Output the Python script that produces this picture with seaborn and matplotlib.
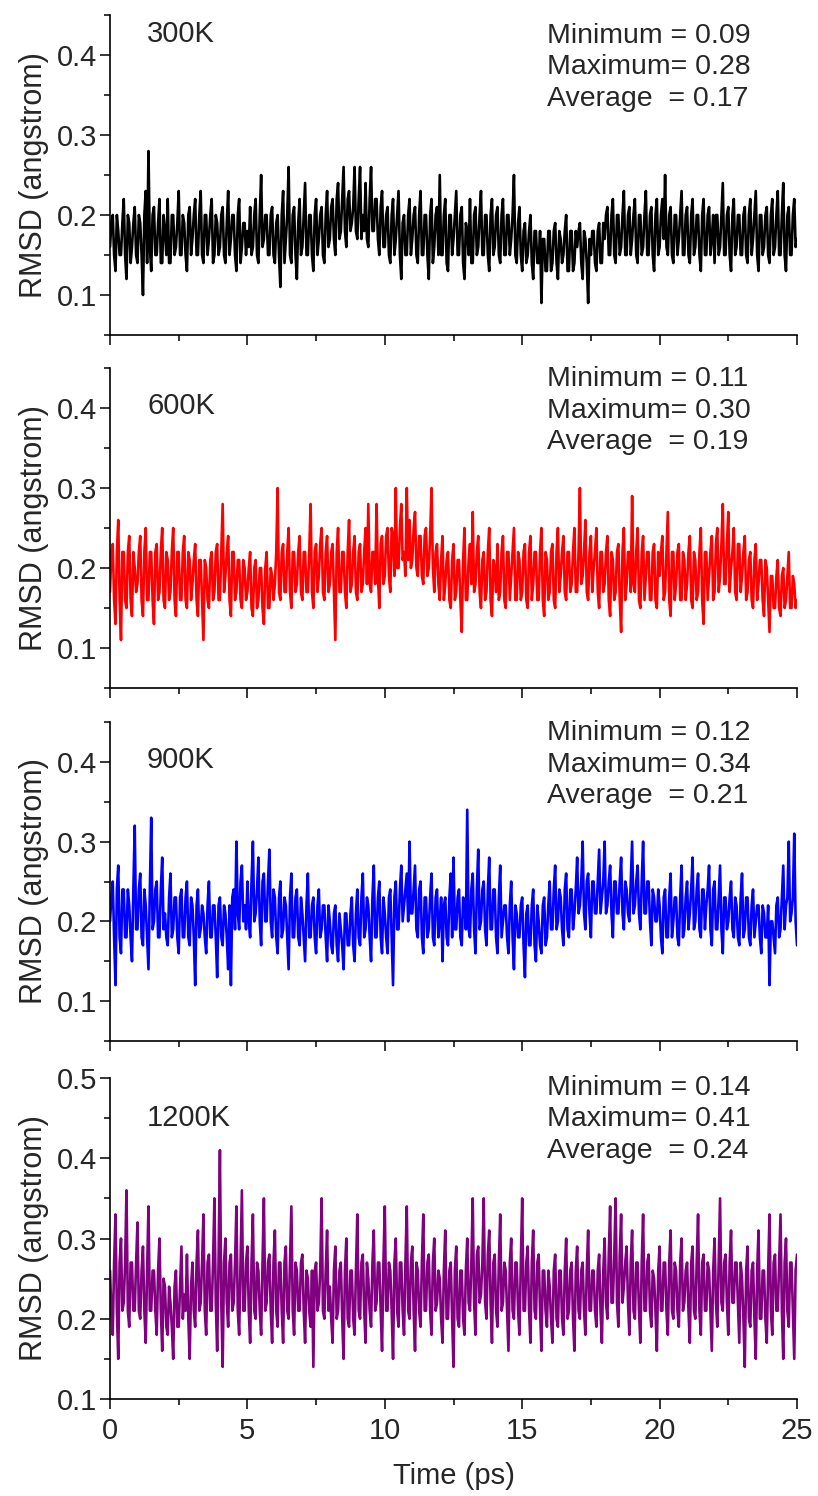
import numpy as np
import pandas as pd
import matplotlib
matplotlib.use("Agg")
import matplotlib.pyplot as plt
import seaborn as sns
from matplotlib.ticker import MultipleLocator

# RMSD traces in units of 0.01 angstrom.
# "*_a" lists: samples at 0, 0.1, 0.2 ... 25 ps
# "*_b" lists: samples in between, at 0.05, 0.15 ... 24.95 ps
rmsd_300_a = [
    16, 20, 13, 18, 15, 22, 12, 19, 16, 21,
    14, 19, 10, 23, 28, 13, 21, 15, 22, 14,
    18, 22, 14, 20, 16, 23, 15, 19, 13, 21,
    17, 22, 15, 23, 14, 20, 17, 22, 15, 19,
    16, 21, 14, 23, 17, 20, 13, 22, 16, 19,
    18, 21, 16, 22, 14, 25, 17, 20, 15, 21,
    14, 20, 11, 23, 17, 26, 14, 21, 12, 22,
    16, 24, 15, 20, 13, 22, 17, 21, 14, 23,
    17, 22, 15, 24, 18, 26, 16, 23, 19, 26,
    17, 26, 20, 24, 16, 26, 18, 22, 15, 23,
    16, 21, 14, 22, 17, 23, 12, 20, 15, 22,
    17, 21, 14, 23, 15, 20, 12, 22, 16, 21,
    25, 15, 22, 13, 20, 17, 23, 15, 21, 12,
    18, 22, 14, 21, 16, 23, 15, 20, 13, 22,
    16, 21, 14, 22, 15, 20, 17, 25, 14, 21,
    13, 19, 15, 20, 12, 18, 14, 9, 17, 13,
    18, 14, 19, 12, 17, 15, 20, 13, 18, 14,
    16, 19, 12, 17, 9, 15, 18, 13, 19, 14,
    17, 21, 15, 22, 14, 20, 16, 23, 15, 21,
    17, 22, 14, 20, 16, 23, 15, 21, 13, 22,
    16, 22, 25, 15, 21, 14, 20, 17, 23, 15,
    21, 14, 22, 16, 20, 13, 22, 15, 21, 17,
    14, 20, 16, 24, 15, 21, 13, 22, 16, 20,
    15, 21, 14, 22, 17, 23, 13, 20, 16, 21,
    14, 22, 16, 23, 15, 24, 13, 21, 15, 22,
    17,
]
rmsd_300_b = [
    19, 15, 20, 15, 19, 15, 20, 14, 19, 15,
    20, 15, 20, 14, 16, 20, 15, 19, 14, 20,
    15, 14, 20, 15, 19, 15, 20, 15, 20, 15,
    20, 15, 20, 15, 20, 15, 20, 14, 20, 15,
    20, 15, 19, 15, 20, 15, 20, 14, 19, 15,
    16, 15, 20, 15, 20, 16, 20, 15, 20, 15,
    19, 15, 20, 14, 20, 15, 20, 15, 19, 15,
    20, 15, 20, 15, 20, 15, 20, 15, 20, 16,
    21, 17, 22, 17, 22, 18, 22, 18, 21, 18,
    22, 17, 18, 17, 22, 18, 22, 17, 21, 16,
    20, 15, 20, 15, 20, 15, 19, 15, 20, 15,
    20, 15, 20, 15, 20, 15, 20, 14, 20, 15,
    15, 20, 14, 20, 15, 20, 15, 20, 14, 19,
    15, 14, 20, 15, 20, 15, 20, 15, 20, 15,
    20, 15, 20, 15, 20, 15, 20, 15, 19, 15,
    18, 14, 18, 14, 18, 14, 18, 17, 13, 18,
    13, 18, 14, 18, 14, 18, 13, 18, 13, 18,
    18, 14, 18, 14, 17, 18, 14, 18, 14, 19,
    20, 15, 20, 15, 20, 15, 20, 15, 20, 15,
    20, 15, 20, 15, 20, 15, 20, 15, 20, 15,
    20, 17, 16, 20, 15, 20, 15, 20, 15, 20,
    15, 20, 15, 20, 15, 20, 15, 20, 15, 20,
    20, 15, 20, 15, 20, 15, 20, 15, 20, 15,
    20, 15, 20, 15, 20, 15, 20, 15, 20, 15,
    20, 15, 20, 15, 20, 15, 20, 15, 20, 16,
]
rmsd_600_a = [
    17, 23, 13, 26, 11, 22, 15, 24, 14, 20,
    18, 24, 14, 25, 16, 22, 13, 23, 17, 25,
    15, 21, 17, 25, 14, 22, 16, 24, 15, 21,
    18, 23, 14, 21, 11, 20, 15, 22, 17, 23,
    16, 28, 19, 24, 14, 22, 17, 21, 15, 20,
    17, 22, 14, 21, 16, 20, 13, 22, 15, 19,
    18, 30, 16, 23, 17, 25, 15, 22, 18, 24,
    16, 22, 17, 28, 15, 23, 19, 25, 16, 24,
    18, 23, 11, 25, 17, 22, 15, 26, 18, 24,
    16, 23, 18, 25, 28, 17, 22, 28, 15, 24,
    19, 25, 17, 24, 30, 20, 28, 22, 30, 26,
    21, 27, 19, 24, 18, 25, 20, 30, 17, 23,
    16, 24, 18, 22, 15, 23, 17, 21, 12, 25,
    16, 23, 27, 18, 24, 15, 22, 17, 25, 14,
    20, 23, 17, 24, 15, 22, 19, 25, 16, 21,
    17, 23, 15, 24, 18, 22, 16, 25, 14, 21,
    17, 23, 15, 25, 19, 24, 16, 22, 18, 25,
    17, 30, 19, 26, 16, 24, 20, 25, 15, 22,
    18, 24, 14, 21, 17, 23, 12, 25, 18, 22,
    29, 17, 25, 15, 24, 19, 22, 16, 23, 15,
    19, 24, 17, 27, 14, 22, 18, 23, 16, 21,
    18, 24, 15, 21, 17, 25, 13, 22, 19, 24,
    17, 25, 19, 28, 18, 27, 20, 25, 16, 23,
    19, 24, 17, 22, 15, 23, 18, 21, 14, 20,
    12, 19, 15, 21, 14, 20, 16, 22, 15, 18,
    16,
]
rmsd_600_b = [
    22, 16, 22, 16, 22, 16, 22, 16, 22, 17,
    22, 16, 22, 16, 22, 16, 22, 16, 22, 16,
    22, 16, 22, 16, 22, 16, 22, 16, 22, 16,
    21, 16, 21, 16, 21, 16, 21, 16, 22, 16,
    22, 17, 22, 16, 22, 16, 21, 16, 21, 16,
    20, 15, 20, 15, 20, 15, 20, 15, 20, 16,
    22, 17, 22, 17, 22, 17, 22, 17, 22, 17,
    22, 17, 22, 17, 22, 17, 23, 17, 22, 17,
    22, 17, 22, 17, 22, 17, 22, 17, 22, 17,
    22, 17, 22, 18, 18, 22, 18, 19, 23, 18,
    24, 19, 25, 19, 20, 25, 21, 19, 21, 20,
    25, 20, 24, 19, 24, 19, 24, 20, 22, 18,
    21, 16, 21, 16, 21, 16, 21, 16, 21, 16,
    21, 18, 17, 22, 17, 21, 16, 22, 16, 21,
    17, 16, 22, 16, 22, 16, 22, 16, 22, 16,
    22, 16, 22, 16, 22, 16, 22, 16, 22, 16,
    22, 16, 22, 17, 22, 17, 22, 17, 22, 17,
    22, 18, 22, 17, 22, 17, 22, 17, 22, 17,
    22, 16, 22, 16, 22, 16, 22, 16, 22, 17,
    18, 22, 16, 22, 16, 22, 16, 22, 16, 22,
    22, 16, 22, 16, 22, 16, 22, 16, 22, 16,
    22, 16, 22, 16, 22, 16, 22, 16, 22, 16,
    23, 17, 23, 18, 23, 17, 22, 17, 23, 17,
    22, 16, 21, 16, 21, 16, 21, 16, 21, 16,
    19, 15, 19, 15, 19, 15, 19, 15, 19, 15,
]
rmsd_900_a = [
    20, 25, 12, 27, 16, 24, 18, 22, 15, 32,
    19, 26, 17, 22, 14, 33, 20, 25, 18, 28,
    21, 17, 26, 19, 23, 16, 24, 18, 25, 17,
    22, 12, 24, 19, 21, 16, 25, 18, 22, 13,
    23, 17, 21, 14, 12, 24, 30, 19, 27, 22,
    25, 18, 30, 21, 28, 17, 26, 20, 29, 18,
    23, 16, 25, 19, 22, 14, 26, 18, 24, 17,
    21, 15, 26, 18, 23, 16, 24, 19, 22, 15,
    20, 16, 22, 15, 19, 14, 21, 17, 23, 15,
    24, 17, 26, 19, 22, 15, 27, 18, 25, 16,
    21, 16, 24, 12, 25, 19, 27, 22, 26, 30,
    21, 27, 18, 25, 16, 23, 19, 26, 17, 24,
    20, 15, 23, 17, 26, 28, 19, 24, 17, 22,
    34, 18, 26, 16, 29, 20, 25, 17, 28, 19,
    24, 16, 27, 20, 22, 16, 25, 14, 21, 18,
    23, 13, 22, 17, 24, 15, 20, 16, 23, 18,
    25, 19, 27, 20, 23, 17, 26, 18, 24, 21,
    28, 22, 30, 19, 26, 18, 25, 21, 29, 23,
    30, 22, 27, 18, 25, 21, 28, 19, 24, 20,
    30, 22, 27, 19, 30, 21, 25, 17, 23, 20,
    22, 16, 24, 18, 26, 20, 23, 17, 27, 19,
    25, 21, 28, 20, 26, 18, 24, 22, 27, 17,
    25, 19, 27, 16, 23, 20, 25, 18, 22, 17,
    26, 19, 23, 17, 24, 20, 22, 16, 21, 18,
    12, 20, 16, 23, 19, 27, 22, 30, 21, 31,
    17,
]
rmsd_900_b = [
    23, 18, 24, 18, 24, 18, 24, 18, 24, 19,
    24, 18, 24, 18, 24, 19, 24, 18, 24, 19,
    18, 23, 18, 23, 18, 23, 18, 23, 18, 23,
    18, 22, 18, 22, 18, 22, 18, 22, 18, 22,
    18, 22, 18, 22, 23, 19, 21, 25, 20, 19,
    20, 25, 20, 24, 20, 25, 20, 25, 20, 24,
    18, 23, 18, 23, 18, 23, 18, 23, 18, 23,
    18, 22, 18, 22, 18, 22, 18, 22, 18, 22,
    17, 21, 17, 21, 17, 21, 17, 21, 17, 21,
    18, 23, 18, 23, 18, 23, 18, 23, 18, 23,
    18, 23, 18, 23, 19, 24, 20, 24, 20, 21,
    24, 19, 24, 18, 23, 18, 23, 18, 23, 18,
    23, 22, 18, 23, 18, 19, 23, 18, 23, 19,
    19, 24, 19, 24, 19, 24, 19, 24, 19, 24,
    18, 23, 18, 22, 18, 22, 18, 22, 18, 22,
    17, 21, 17, 22, 17, 22, 17, 22, 17, 22,
    19, 24, 19, 24, 19, 24, 19, 24, 19, 24,
    21, 25, 21, 25, 21, 25, 21, 25, 21, 25,
    21, 25, 21, 25, 21, 25, 21, 25, 21, 25,
    21, 25, 21, 25, 21, 25, 20, 24, 20, 24,
    18, 23, 18, 23, 18, 23, 18, 23, 18, 23,
    19, 24, 19, 24, 19, 24, 19, 24, 19, 24,
    19, 23, 19, 23, 19, 23, 19, 23, 18, 23,
    18, 23, 18, 22, 18, 22, 18, 22, 18, 22,
    20, 18, 22, 18, 23, 19, 23, 20, 23, 20,
]
rmsd_1200_a = [
    26, 18, 33, 15, 30, 22, 36, 19, 27, 21,
    32, 20, 29, 17, 34, 21, 26, 18, 30, 16,
    24, 18, 22, 15, 26, 19, 29, 23, 28, 15,
    27, 19, 31, 22, 33, 18, 28, 21, 35, 16,
    41, 14, 30, 19, 28, 22, 34, 18, 36, 21,
    29, 17, 33, 20, 26, 18, 35, 22, 28, 17,
    31, 19, 27, 17, 29, 20, 34, 18, 26, 21,
    28, 17, 25, 19, 14, 27, 22, 35, 20, 31,
    24, 17, 29, 21, 27, 15, 30, 19, 26, 18,
    33, 20, 28, 17, 25, 19, 31, 22, 27, 16,
    34, 21, 26, 15, 30, 19, 27, 18, 34, 20,
    29, 16, 26, 19, 33, 21, 28, 18, 30, 22,
    25, 17, 31, 20, 27, 14, 29, 19, 26, 18,
    30, 21, 35, 18, 29, 23, 35, 20, 31, 17,
    28, 19, 33, 22, 26, 16, 30, 20, 27, 18,
    35, 21, 29, 17, 31, 20, 28, 16, 26, 19,
    24, 17, 28, 19, 26, 18, 30, 21, 27, 16,
    29, 20, 27, 18, 31, 21, 26, 19, 28, 17,
    30, 20, 34, 22, 35, 19, 33, 24, 29, 18,
    31, 20, 27, 17, 33, 21, 28, 19, 25, 16,
    29, 21, 27, 18, 31, 20, 26, 19, 30, 22,
    27, 17, 29, 20, 33, 18, 28, 21, 26, 16,
    30, 19, 35, 21, 28, 18, 31, 22, 27, 17,
    25, 14, 29, 19, 27, 15, 31, 20, 26, 17,
    33, 18, 28, 21, 33, 15, 30, 19, 27, 15,
    28,
]
rmsd_1200_b = [
    21, 27, 21, 27, 21, 27, 21, 27, 21, 27,
    21, 26, 21, 26, 21, 26, 21, 26, 21, 25,
    19, 24, 19, 24, 19, 24, 20, 21, 20, 24,
    21, 27, 21, 27, 21, 27, 21, 27, 22, 27,
    22, 27, 22, 27, 21, 27, 21, 27, 21, 27,
    21, 27, 21, 27, 21, 27, 21, 27, 21, 27,
    21, 27, 21, 27, 21, 27, 21, 27, 21, 27,
    21, 26, 21, 26, 26, 21, 26, 21, 26, 21,
    20, 26, 20, 26, 20, 26, 20, 26, 20, 26,
    21, 27, 21, 27, 21, 27, 21, 27, 21, 27,
    21, 27, 21, 27, 21, 27, 21, 27, 21, 27,
    21, 27, 21, 27, 21, 27, 21, 27, 21, 26,
    20, 26, 20, 26, 20, 26, 20, 26, 20, 26,
    22, 27, 22, 28, 22, 27, 22, 28, 22, 27,
    21, 27, 21, 27, 21, 27, 21, 27, 21, 27,
    21, 27, 21, 27, 21, 27, 21, 26, 21, 26,
    20, 26, 20, 26, 20, 26, 20, 26, 20, 26,
    21, 26, 21, 26, 21, 26, 21, 26, 21, 26,
    22, 28, 22, 28, 22, 28, 22, 27, 22, 27,
    21, 27, 21, 27, 21, 27, 21, 26, 21, 26,
    21, 27, 21, 27, 21, 27, 21, 27, 21, 26,
    21, 27, 21, 27, 21, 27, 21, 27, 21, 26,
    22, 27, 22, 27, 22, 27, 22, 27, 22, 27,
    20, 26, 20, 26, 20, 26, 20, 26, 20, 26,
    21, 27, 21, 27, 21, 27, 21, 27, 21, 26,
]

temperatures = ["300K", "600K", "900K", "1200K"]
stats_min = [0.09, 0.11, 0.12, 0.14]
stats_max = [0.28, 0.30, 0.34, 0.41]
stats_avg = [0.17, 0.19, 0.21, 0.24]
series = [(rmsd_300_a, rmsd_300_b), (rmsd_600_a, rmsd_600_b),
          (rmsd_900_a, rmsd_900_b), (rmsd_1200_a, rmsd_1200_b)]
colors = ["black", "#ff0000", "#0000ff", "#800080"]
ylims = [(0.05, 0.45), (0.05, 0.45), (0.05, 0.45), (0.1, 0.5)]
label_y = [0.985, 0.925, 0.925, 0.92]
stats_y = [0.975, 1.005, 1.005, 1.01]


def merge(a, b):
    # interleave the two sample lists into one trace
    out = []
    for k in range(len(b)):
        out += [a[k], b[k]]
    out.append(a[-1])
    return np.array(out) / 100.0


sns.set_style("ticks")
plt.rcParams["font.family"] = ["Liberation Sans", "DejaVu Sans"]

fig = plt.figure(figsize=(8.18, 14.96), dpi=100)
W, H = 818, 1496
panels = [(15, 335), (368, 688), (722, 1041), (1078, 1399)]
left, right = 110, 797

for i, (top, bottom) in enumerate(panels):
    ax = fig.add_axes([left / W, 1 - bottom / H, (right - left) / W, (bottom - top) / H])
    vals = merge(*series[i])
    df = pd.DataFrame({"time": np.linspace(0, 25, len(vals)), "rmsd": vals})
    sns.lineplot(data=df, x="time", y="rmsd", color=colors[i], lw=1.9, ax=ax)

    ax.set_xlim(0, 25)
    ax.set_ylim(*ylims[i])
    ax.xaxis.set_major_locator(MultipleLocator(5))
    ax.xaxis.set_minor_locator(MultipleLocator(2.5))
    ax.yaxis.set_major_locator(MultipleLocator(0.1))
    ax.yaxis.set_minor_locator(MultipleLocator(0.05))
    ax.tick_params(which="major", length=7, width=1.1, labelsize=21, pad=2, color="black")
    ax.tick_params(axis="x", which="major", pad=6)
    ax.tick_params(which="minor", length=4, width=1.1, color="black")
    for s in ["top", "right"]:
        ax.spines[s].set_visible(False)
    for s in ["left", "bottom"]:
        ax.spines[s].set_linewidth(1.2)
        ax.spines[s].set_color("black")

    ax.set_ylabel("RMSD (angstrom)", fontsize=22, labelpad=6)
    if i < 3:
        ax.set_xlabel("")
        ax.set_xticklabels([])
    else:
        ax.set_xlabel("Time (ps)", fontsize=21, labelpad=12)

    ax.text(0.054, label_y[i], temperatures[i], transform=ax.transAxes,
            fontsize=21, ha="left", va="top")
    stats = (f"Minimum = {stats_min[i]:.2f}\n"
             f"Maximum= {stats_max[i]:.2f}\n"
             f"Average  = {stats_avg[i]:.2f}")
    ax.text(0.636, stats_y[i], stats, transform=ax.transAxes, fontsize=20.5,
            ha="left", va="top", linespacing=1.27)

fig.savefig("out.png", dpi=100)
